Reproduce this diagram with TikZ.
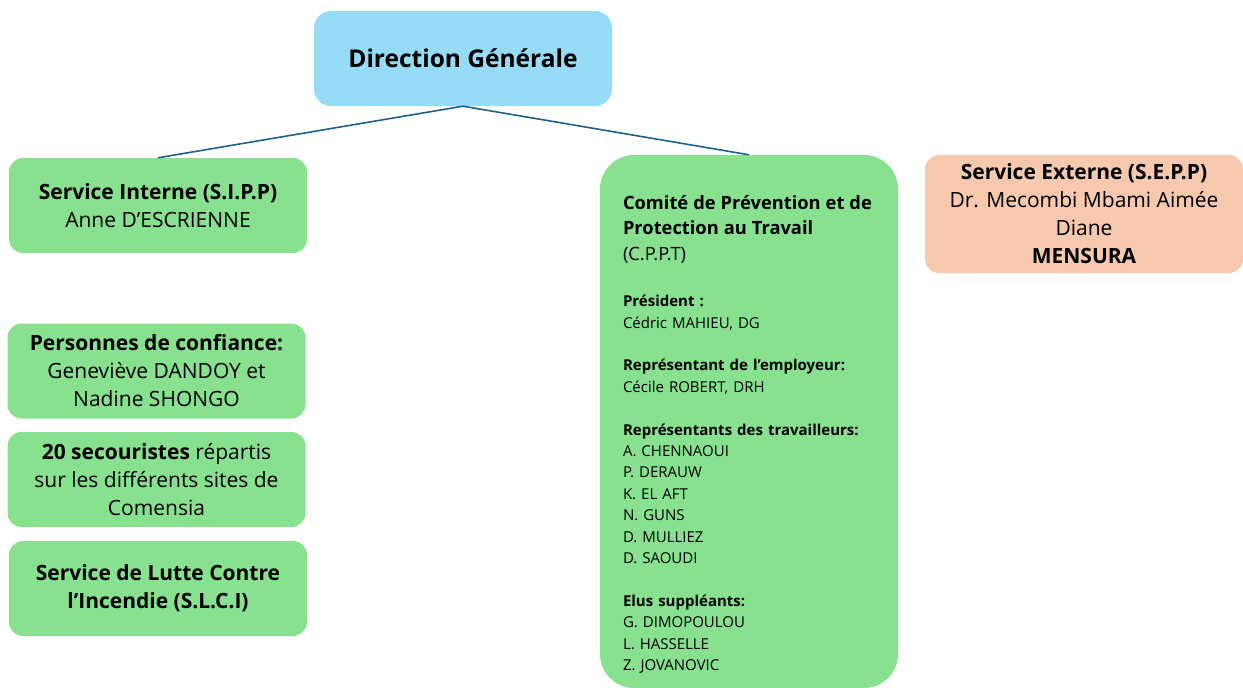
\documentclass[tikz,border=0pt]{standalone}
\usepackage{fontspec}
\setmainfont{Open Sans}
\usetikzlibrary{positioning}
\definecolor{dgblue}{HTML}{97DCF7}
\definecolor{unitgreen}{HTML}{87E18E}
\definecolor{extpeach}{HTML}{F6C8AE}
\definecolor{linkblue}{HTML}{1F5F8B}
\tikzset{
  box/.style={rounded corners=14pt,inner sep=0pt,align=center,
    minimum width=298pt,minimum height=95pt,
    font=\fontsize{21}{28}\selectfont},
  headbox/.style={box,fill=dgblue,rounded corners=17pt,
    font=\fontsize{24.5}{30}\selectfont},
  unit/.style={box,fill=unitgreen},
  extunit/.style={box,fill=extpeach,minimum width=318pt,minimum height=118pt},
  committee/.style={fill=unitgreen,rounded corners=34pt,inner sep=0pt,
    minimum width=298pt,minimum height=533pt},
  memberlist/.style={inner sep=0pt,align=left,text width=275pt,
    font=\fontsize{15}{21.4}\selectfont},
  link/.style={draw=linkblue,line width=1.6pt}
}
\newcommand{\cptitle}[1]{{\fontsize{18.3}{25.5}\selectfont #1}}

\begin{document}
\begin{tikzpicture}[x=1pt,y=-1pt]
  \useasboundingbox (0,0) rectangle (1243,688);
  % Top of the chart
  \node[headbox] (dg) at (463,58.5) {\textbf{Direction Générale}};
  % Left column
  \node[unit] (sipp) at (158,205.5)
    {\textbf{Service Interne (S.I.P.P)}\\Anne D’ESCRIENNE};
  \node[unit] (trust) at (156.5,371)
    {\textbf{Personnes de confiance:}\\Geneviève DANDOY et\\Nadine SHONGO};
  \node[unit] (aid) at (156.5,479.5)
    {\textbf{20 secouristes} répartis\\sur les différents sites de\\Comensia};
  \node[unit] (slci) at (158,588.5)
    {\textbf{Service de Lutte Contre}\\\textbf{l’Incendie (S.L.C.I)}};
  % Committee
  \node[committee] (cppt) at (749,421.5) {};
  \node[memberlist,anchor=north west] (cpptlist)
    at ([xshift=23pt,yshift=-40.5pt]cppt.north west)
    {\cptitle{\textbf{Comité de Prévention et de}}\\[4pt]
     \cptitle{\textbf{Protection au Travail}}\\[4pt]
     \cptitle{(C.P.P.T)}\\[25pt]
     \textbf{Président :}\\
     Cédric MAHIEU, DG\\[21.4pt]
     \textbf{Représentant de l’employeur:}\\
     Cécile ROBERT, DRH\\[21.4pt]
     \textbf{Représentants des travailleurs:}\\
     A. CHENNAOUI\\
     P. DERAUW\\
     K. EL AFT\\
     N. GUNS\\
     D. MULLIEZ\\
     D. SAOUDI\\[21.4pt]
     \textbf{Elus suppléants:}\\
     G. DIMOPOULOU\\
     L. HASSELLE\\
     Z. JOVANOVIC};
  % External service
  \node[extunit] (sepp) at (1084,214)
    {\textbf{Service Externe (S.E.P.P)}\\Dr. Mecombi Mbami Aimée\\Diane\\\textbf{MENSURA}};
  % Links
  \draw[link] (dg.south) -- (sipp.north);
  \draw[link] (dg.south) -- (cppt.north);
\end{tikzpicture}
\end{document}
